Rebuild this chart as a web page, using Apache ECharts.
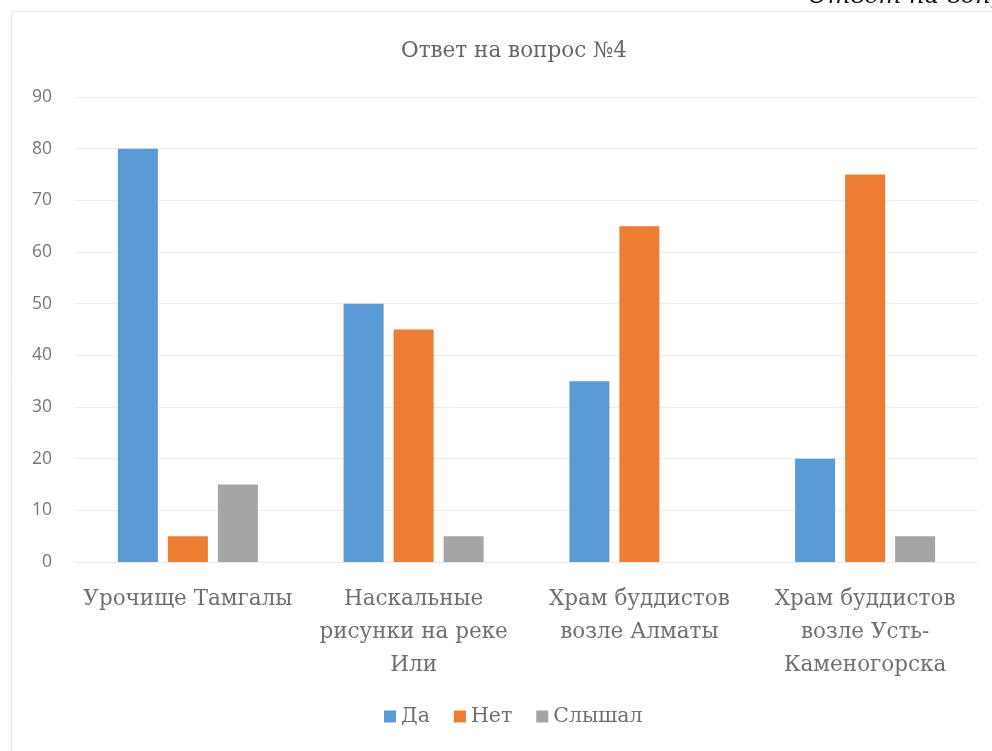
<!DOCTYPE html>
<html>
<head>
<meta charset="utf-8">
<script src="https://cdn.jsdelivr.net/npm/echarts@6/dist/echarts.min.js"></script>
<style>
  html, body { margin: 0; padding: 0; background: #fff; }
  #chart { width: 992px; height: 751px; }
</style>
</head>
<body>
<div id="chart"></div>
<script>
// Survey answers to question 4, by landmark
const categories = [
  'Урочище Тамгалы',
  'Наскальные\nрисунки на реке\nИли',
  'Храм буддистов\nвозле Алматы',
  'Храм буддистов\nвозле Усть-\nКаменогорска'
];
const seriesNames = ['Да', 'Нет', 'Слышал'];
const yesValues = [80, 50, 35, 20];
const noValues = [5, 45, 65, 75];
const heardValues = [15, 5, 0, 5];
const yTicks = [0, 10, 20, 30, 40, 50, 60, 70, 80, 90];

const colors = ['#5b9bd5', '#ed7d31', '#a5a5a5'];
const serif = '"DejaVu Serif", "Liberation Serif", serif';
const textGray = '#707070';

const chart = echarts.init(document.getElementById('chart'), null, { renderer: 'canvas' });

const makeBar = (name, data, color) => ({
  name,
  type: 'bar',
  data,
  barWidth: 40,
  barGap: '25%',
  itemStyle: { color },
  emphasis: { disabled: true }
});

chart.setOption({
  animation: false,
  backgroundColor: '#ffffff',
  color: colors,
  title: {
    text: 'Ответ на вопрос №4',
    left: 396,
    top: 35,
    textStyle: { fontFamily: serif, fontSize: 21.5, fontWeight: 'normal', color: '#666666' }
  },
  graphic: [
    {
      type: 'rect',
      shape: { x: 11.5, y: 11.5, width: 1000, height: 800 },
      style: { fill: 'none', stroke: '#e6e6e6', lineWidth: 1 },
      silent: true,
      z: -1
    },
    {
      type: 'text',
      left: 808,
      top: -15,
      style: {
        text: 'Ответ на вопрос №4',
        font: 'italic 24px "DejaVu Serif", serif',
        fill: '#111111'
      },
      silent: true
    }
  ],
  legend: {
    data: seriesNames,
    bottom: 19,
    left: 379,
    itemWidth: 12,
    itemHeight: 12,
    itemGap: 24,
    icon: 'rect',
    textStyle: { fontFamily: serif, fontSize: 20.5, color: textGray }
  },
  grid: { left: 75, right: 14, top: 97, bottom: 189, containLabel: false },
  xAxis: {
    type: 'category',
    data: categories,
    axisLine: { show: true, lineStyle: { color: '#ececec' } },
    axisTick: { show: false },
    axisLabel: {
      interval: 0,
      margin: 21,
      fontFamily: serif,
      fontSize: 21.5,
      lineHeight: 33,
      color: textGray,
      align: 'center'
    }
  },
  yAxis: {
    type: 'value',
    min: yTicks[0],
    max: yTicks[yTicks.length - 1],
    interval: 10,
    axisLine: { show: false },
    axisTick: { show: false },
    splitLine: { lineStyle: { color: '#ececec', width: 1 } },
    axisLabel: {
      margin: 23,
      fontFamily: '"Open Sans", "Noto Sans", sans-serif',
      fontSize: 17.5,
      color: '#777777'
    }
  },
  series: [
    makeBar(seriesNames[0], yesValues, colors[0]),
    makeBar(seriesNames[1], noValues, colors[1]),
    makeBar(seriesNames[2], heardValues, colors[2])
  ]
});
</script>
</body>
</html>
